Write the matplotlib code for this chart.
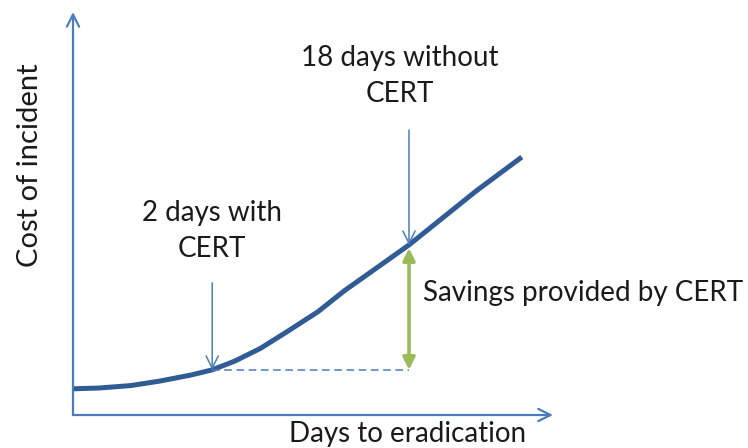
import matplotlib.pyplot as plt

# conceptual curve (arbitrary units)
curve_x = [0, 1.1, 2.4, 3.6, 4.9, 5.8, 6.75, 7.8, 8.9, 10.2, 11.3, 12.7, 14.0, 15.4, 16.8, 18.7]
curve_y = [6.5, 6.7, 7.3, 8.4, 9.9, 11.2, 13.4, 16.5, 20.6, 25.6, 30.8, 36.7, 42.2, 48.9, 55.6, 64.0]

with_idx = 5       # "2 days with CERT"
without_idx = 12   # "18 days without CERT"

label_with = "2 days with\nCERT"
label_without = "18 days without\nCERT"
label_savings = "Savings provided by CERT"
xlabel = "Days to eradication"
ylabel = "Cost of incident"

axis_col = "#4a7ebb"
curve_col = "#305b94"
green = "#9bbb59"
text_col = "#1a1a1a"

plt.rcParams['font.family'] = ['Lato', 'DejaVu Sans']

fig = plt.figure(figsize=(7.48, 4.48), dpi=100)
ax = fig.add_axes([73 / 748, 33 / 448, 480 / 748, 403 / 448])
ax.set_xlim(0, 20)
ax.set_ylim(0, 100)
ax.axis('off')

# axes drawn as arrows
ax.annotate("", xy=(0, 1), xytext=(0, 0), xycoords='axes fraction',
            arrowprops=dict(arrowstyle='->', color=axis_col, lw=1.6,
                            mutation_scale=22, shrinkA=0, shrinkB=0))
ax.annotate("", xy=(1, 0), xytext=(0, 0), xycoords='axes fraction',
            arrowprops=dict(arrowstyle='->', color=axis_col, lw=1.6,
                            mutation_scale=22, shrinkA=0, shrinkB=0))

ax.plot(curve_x, curve_y, color=curve_col, lw=3.6, solid_capstyle='butt',
        solid_joinstyle='round')

xw, yw = curve_x[with_idx], curve_y[with_idx]
xo, yo = curve_x[without_idx], curve_y[without_idx]

# dashed baseline
ax.plot([xw, xo], [yw, yw], color=axis_col, lw=1.1, ls=(0, (5, 3)))

# pointer arrows
ax.annotate("", xy=(xw, yw), xytext=(xw, 32.8),
            arrowprops=dict(arrowstyle='->', color=axis_col, lw=1.1,
                            mutation_scale=22, shrinkA=0, shrinkB=0))
ax.annotate("", xy=(xo, yo), xytext=(xo, 70.7),
            arrowprops=dict(arrowstyle='->', color=axis_col, lw=1.1,
                            mutation_scale=22, shrinkA=0, shrinkB=0))

# savings double arrow
ax.annotate("", xy=(xo, yo - 0.8), xytext=(xo, yw),
            arrowprops=dict(arrowstyle='<|-|>', color=green, lw=2.6,
                            mutation_scale=18, shrinkA=0, shrinkB=0))

fs = 20
ax.text(xw, 45.7, label_with, ha='center', va='center', fontsize=fs,
        color=text_col, linespacing=1.45)
ax.text(13.6, 84.1, label_without, ha='center', va='center', fontsize=fs,
        color=text_col, linespacing=1.45)
ax.text(14.6, 30.3, label_savings, ha='left', va='center', fontsize=fs,
        color=text_col)
ax.text(13.96, -4.6, xlabel, ha='center', va='center', fontsize=fs,
        color=text_col, clip_on=False)
ax.text(-1.8, 62, ylabel, ha='center', va='center', fontsize=fs + 1,
        color=text_col, rotation=90, clip_on=False)

fig.savefig("out.png", dpi=100)
